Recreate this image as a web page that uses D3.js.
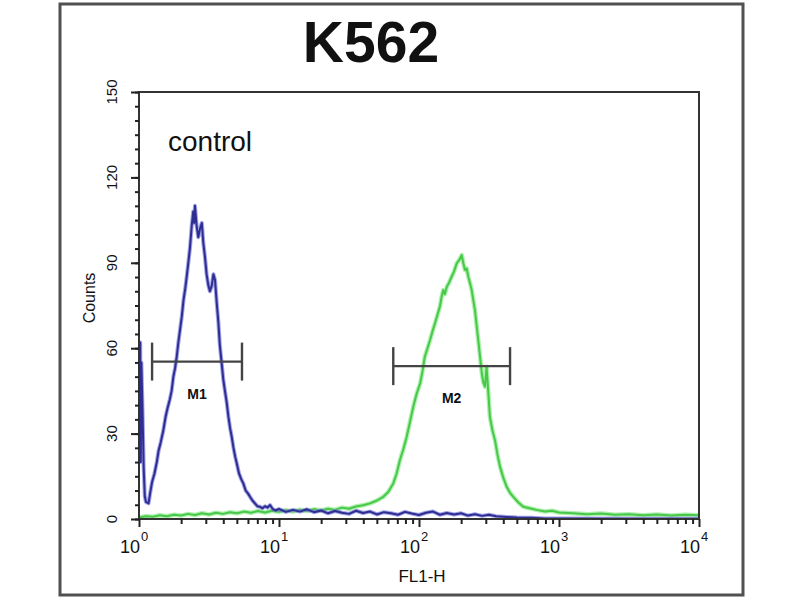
<!DOCTYPE html>
<html>
<head>
<meta charset="utf-8">
<script src="https://cdn.jsdelivr.net/npm/d3@7/dist/d3.min.js"></script>
<style>
  html, body { margin: 0; padding: 0; background: #fff; }
  svg { display: block; }
  text { font-family: "Liberation Sans", Arial, sans-serif; fill: #111; }
</style>
</head>
<body>
<svg id="chart" width="800" height="600"></svg>
<script>
// ---------------- data ----------------
const title = "K562";
const sampleLabel = "control";
const xLabel = "FL1-H";
const yLabel = "Counts";

const xMajorTicks = [1, 10, 100, 1000, 10000];
const xTickExponents = ["0", "1", "2", "3", "4"];
const yMajorTicks = [0, 30, 60, 90, 120, 150];

// control (blue) histogram: FL1-H value, count
const controlX = [1.00,1.01,1.02,1.03,1.04,1.06,1.08,1.10,1.12,1.17,1.20,1.24,1.29,1.34,1.38,1.43,1.49,1.55,1.60,1.66,1.71,1.76,
  1.81,1.86,1.91,1.97,2.02,2.08,2.14,2.19,2.25,2.31,2.38,2.44,2.48,2.51,2.58,2.65,2.73,2.81,2.88,2.96,
  3.04,3.13,3.21,3.31,3.40,3.49,3.59,3.69,3.78,3.89,4.00,4.11,4.23,4.35,4.47,4.59,4.73,4.86,4.99,5.18,
  5.37,5.56,5.78,6.00,6.21,6.46,6.73,7.00,7.31,7.62,7.94,8.28,8.63,9.02,9.44,10.0,11.2,12.6,14.1,15.8,
  17.8,20.0,22.4,25.1,28.2,31.6,35.5,39.8,44.7,50.1,56.2,63.1,70.8,79.4,89.1,100,112,126,141,158,
  178,200,224,251,282,316,355,398,501,631,794,1000,3160,10000];
const controlY = [58,30,62,20,55,38,18,8,6,5.5,9,13,16,20,24,27,31,36,39,42,45,50,
  53,57,62,67,71,77,81,85,90,95,103,108,104,110,103,99,102,104,97,92,
  86,82,80,82,86,84,76,69,61,55,49,45,41,36,32,29,25,22,19.6,16,
  14,12.5,10,9,7.8,6.5,5.5,4.5,4.3,3.8,4.5,4,4.9,3.5,3,3.5,2.5,3.2,2.6,3.4,
  2.4,3.0,2.0,2.8,2.2,1.8,2.9,2.1,2.6,1.6,2.4,2.0,1.5,2.5,1.9,1.4,2.2,2.6,1.5,2.1,
  1.6,2.0,1.2,1.7,1.1,1.5,1.0,0.8,0.5,0.4,0.2,0.2,0.1,0.1];

// stained sample (green) histogram: FL1-H value, count
const sampleX = [1.00,1.12,1.26,1.41,1.58,1.78,2.00,2.24,2.51,2.82,3.16,3.55,3.98,4.47,5.01,5.62,6.31,7.08,7.94,8.91,
  10.0,11.2,12.6,14.1,15.8,17.8,20.0,22.4,25.1,28.2,31.6,35.5,39.8,44.7,50.1,55.6,60.3,65.5,69.2,73.1,
  77.3,81.7,86.1,91.0,96.2,102,106,110,115,120,125,130,136,141,145,149,153,158,164,171,
  178,186,194,202,207,213,219,225,231,238,244,251,258,265,273,281,288,296,304,313,
  321,335,349,364,379,400,423,447,472,513,556,617,692,794,891,1000,1259,1585,1995,2512,
  3162,3981,5012,6310,7943,10000];
const sampleY = [0.5,1.0,0.8,1.3,1.0,1.5,1.2,1.8,1.4,2.0,1.6,2.2,1.8,2.4,2.0,2.6,2.2,2.8,2.3,2.9,
  2.5,3.1,2.6,3.3,2.8,3.4,3.0,3.6,3.2,4.0,3.6,4.4,4.8,5.5,6.5,7.8,9.5,12.5,16,20.7,
  24.5,28.9,34,39.4,44,47.7,52,57,60,62.9,66,68.7,72,74.6,78,80.4,79,81.6,83,85.1,
  87,89.8,91,92.7,90,87.5,88,85.1,83,80.4,77,73.4,68,62.9,57,51.2,48,46.5,53.5,44,
  35.9,31,27.7,22.5,18.4,14.5,11.3,9.2,7.8,5.8,4.3,3.8,3.2,2.6,2.9,2.3,2.0,1.7,1.9,1.5,
  1.7,1.3,1.6,1.2,1.5,1.3];

// gate markers
const markerNames = ["M1", "M2"];
const markerStart = [1.24, 65.5];
const markerEnd = [5.44, 447];
const markerLevel = [55.3, 53.7];

// ---------------- drawing ----------------
const svg = d3.select("#chart");
const plot = { left: 139, right: 699, top: 92, bottom: 519 };

const x = d3.scaleLog().domain([1, 10000]).range([plot.left, plot.right]);
const y = d3.scaleLinear().domain([0, 150]).range([plot.bottom, plot.top]);

// outer frame
svg.append("rect")
  .attr("x", 60).attr("y", 4).attr("width", 683).attr("height", 591)
  .attr("fill", "none").attr("stroke", "#505050").attr("stroke-width", 3);

// title
svg.append("text")
  .attr("x", 371).attr("y", 62)
  .attr("text-anchor", "middle")
  .attr("font-size", 57).attr("font-weight", "bold")
  .text(title);

// clip
svg.append("defs").append("clipPath").attr("id", "clip")
  .append("rect")
  .attr("x", plot.left).attr("y", plot.top - 5)
  .attr("width", plot.right - plot.left).attr("height", plot.bottom - plot.top + 5);

const line = d3.line().x(d => x(d[0])).y(d => y(d[1])).curve(d3.curveLinear);
const g = svg.append("g").attr("clip-path", "url(#clip)");

const sampleData = sampleX.map((v, i) => [v, sampleY[i]]);
const controlData = controlX.map((v, i) => [v, controlY[i]]);

g.append("path").datum(sampleData).attr("d", line)
  .attr("fill", "none").attr("stroke", "#aef0ae").attr("stroke-width", 4.5).attr("stroke-linejoin", "round");
g.append("path").datum(sampleData).attr("d", line)
  .attr("fill", "none").attr("stroke", "#48c848").attr("stroke-width", 2).attr("stroke-linejoin", "round");

g.append("path").datum(controlData).attr("d", line)
  .attr("fill", "none").attr("stroke", "#7b7be0").attr("stroke-width", 4).attr("stroke-opacity", 0.7).attr("stroke-linejoin", "round");
g.append("path").datum(controlData).attr("d", line)
  .attr("fill", "none").attr("stroke", "#2e2e90").attr("stroke-width", 2).attr("stroke-linejoin", "round");

// plot box
svg.append("rect")
  .attr("x", plot.left).attr("y", plot.top)
  .attr("width", plot.right - plot.left).attr("height", plot.bottom - plot.top)
  .attr("fill", "none").attr("stroke", "#333").attr("stroke-width", 2);

// y axis ticks
const yAxisMajor = d3.axisLeft(y).tickValues(yMajorTicks).tickSize(8).tickFormat("");
const yAxisMinor = d3.axisLeft(y).tickValues(d3.range(0, 151, 5)).tickSize(4).tickFormat("");
[yAxisMinor, yAxisMajor].forEach(ax => {
  const a = svg.append("g").attr("transform", `translate(${plot.left},0)`).call(ax);
  a.select(".domain").remove();
  a.selectAll("line").attr("stroke", "#222").attr("stroke-width", 2);
});

// x axis ticks
const minorX = [];
for (let d = 1; d < 10000; d *= 10) for (let k = 2; k <= 9; k++) minorX.push(d * k);
const xAxisMajor = d3.axisBottom(x).tickValues(xMajorTicks).tickSize(8).tickFormat("");
const xAxisMinor = d3.axisBottom(x).tickValues(minorX).tickSize(5).tickFormat("");
[xAxisMinor, xAxisMajor].forEach(ax => {
  const a = svg.append("g").attr("transform", `translate(0,${plot.bottom})`).call(ax);
  a.select(".domain").remove();
  a.selectAll("line").attr("stroke", "#222").attr("stroke-width", 2);
});

// y tick labels (rotated)
svg.selectAll(".ylab").data(yMajorTicks).enter().append("text")
  .attr("class", "ylab")
  .attr("transform", d => `translate(117,${y(d)}) rotate(-90)`)
  .attr("text-anchor", "middle")
  .attr("font-size", 15)
  .attr("fill", "#333")
  .text(d => d);

// y axis title
svg.append("text")
  .attr("transform", `translate(95,298) rotate(-90)`)
  .attr("text-anchor", "middle")
  .attr("font-size", 16)
  .attr("fill", "#222")
  .text(yLabel);

// x tick labels with superscripts
xMajorTicks.forEach((v, i) => {
  svg.append("text")
    .attr("x", x(v) + 1).attr("y", 553)
    .attr("text-anchor", "end")
    .attr("font-size", 18)
    .attr("fill", "#222")
    .text("10");
  svg.append("text")
    .attr("x", x(v) + 2).attr("y", 541)
    .attr("font-size", 13)
    .attr("fill", "#222")
    .text(xTickExponents[i]);
});

// x axis title
svg.append("text")
  .attr("x", 422).attr("y", 582)
  .attr("text-anchor", "middle")
  .attr("font-size", 17)
  .attr("fill", "#222")
  .text(xLabel);

// sample label
svg.append("text")
  .attr("x", 168).attr("y", 151)
  .attr("font-size", 28)
  .attr("fill", "#2a2a2a")
  .text(sampleLabel);

// markers
markerNames.forEach((name, i) => {
  const x0 = x(markerStart[i]), x1 = x(markerEnd[i]), yy = y(markerLevel[i]);
  const mg = svg.append("g").attr("stroke", "#444").attr("stroke-width", 2.4);
  mg.append("line").attr("x1", x0).attr("x2", x1).attr("y1", yy).attr("y2", yy);
  mg.append("line").attr("x1", x0).attr("x2", x0).attr("y1", yy - 19).attr("y2", yy + 19);
  mg.append("line").attr("x1", x1).attr("x2", x1).attr("y1", yy - 19).attr("y2", yy + 19);
  svg.append("text")
    .attr("x", x(Math.sqrt(markerStart[i] * markerEnd[i])))
    .attr("y", yy + 37)
    .attr("text-anchor", "middle")
    .attr("font-size", 14)
    .attr("font-weight", "bold")
    .attr("fill", "#333")
    .text(name);
});
</script>
</body>
</html>
